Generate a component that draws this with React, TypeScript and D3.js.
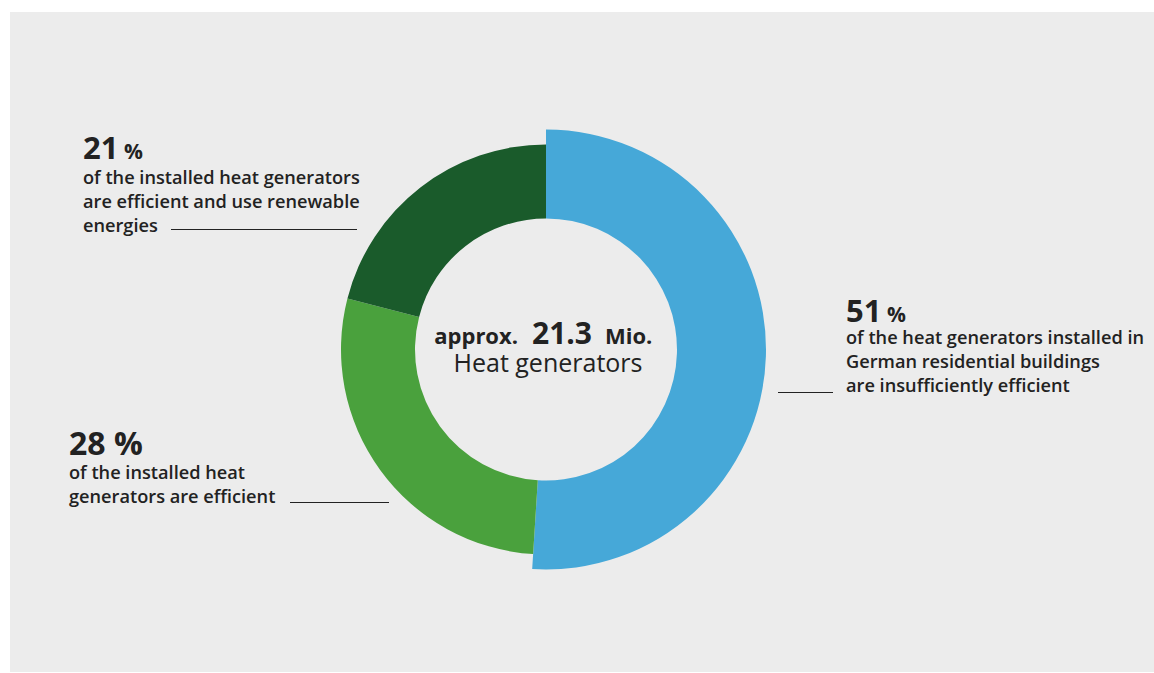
import React from "react";
import * as d3 from "d3";

const categories = ["insufficiently efficient", "efficient", "efficient, renewable"];
const values = [51, 28, 21];
const percentLabels = ["51", "28", "21"];
const labelLines = [
  ["of the heat generators installed in", "German residential buildings", "are insufficiently efficient"],
  ["of the installed heat", "generators are efficient"],
  ["of the installed heat generators", "are efficient and use renewable", "energies"],
];
const centerTop = ["approx.", "21.3", "Mio."];
const centerBottom = "Heat generators";

const COLORS = ["#46a8d8", "#4aa13d", "#1a5b2b"];
const OUTER = [220, 205, 205];
const INNER = 131;
const CX = 546;
const CY = 349.5;
const FONT = "'Open Sans', 'Noto Sans', sans-serif";
const TEXT = "#222";

const LABEL_LAYOUT = [
  { x: 846, y: 321.5, big: 31, pct: 21, line: [778, 833, 392.5], lineStart: 344.3 },
  { x: 69, y: 455, big: 32, pct: 32, line: [290, 389, 502.5], lineStart: 479.3 },
  { x: 83, y: 159.3, big: 31, pct: 21, line: [171, 357, 229.5], lineStart: 184 },
];

export default function App() {
  const pie = d3.pie<number>().sort(null).value((d) => d);
  const arcs = pie(values);
  return (
    <svg
      width={1154}
      height={673}
      style={{ position: "absolute", left: 0, top: 0 }}
      fontFamily={FONT}
    >
      <rect x={10} y={12} width={1144} height={660} fill="#ececec" />
      <g transform={`translate(${CX},${CY})`}>
        {arcs.map((a, i) => {
          const path = d3.arc<d3.PieArcDatum<number>>().innerRadius(INNER).outerRadius(OUTER[i])(a) || "";
          return <path key={categories[i]} d={path} fill={COLORS[i]} />;
        })}
        <text x={-28} y={-5.2} textAnchor="end" fill={TEXT} fontWeight={700} fontSize={22}>
          {centerTop[0]}
        </text>
        <text x={16} y={-5.2} textAnchor="middle" fill={TEXT} fontWeight={700} fontSize={30}>
          {centerTop[1]}
        </text>
        <text x={59} y={-5.2} textAnchor="start" fill={TEXT} fontWeight={700} fontSize={22}>
          {centerTop[2]}
        </text>
        <text x={2} y={22.2} textAnchor="middle" fill={TEXT} fontSize={25} fontWeight={400}>
          {centerBottom}
        </text>
      </g>
      {LABEL_LAYOUT.map((L, i) => (
        <g key={i}>
          <text x={L.x} y={L.y} fill={TEXT} fontWeight={700}>
            <tspan fontSize={L.big}>{percentLabels[i]}</tspan>
            <tspan fontSize={L.pct}> %</tspan>
          </text>
          <text x={L.x} y={L.lineStart} fill={TEXT} fontSize={18.2} fontWeight={600}>
            {labelLines[i].map((t, j) => (
              <tspan key={j} x={L.x} dy={j === 0 ? 0 : 24}>
                {t}
              </tspan>
            ))}
          </text>
          <line x1={L.line[0]} x2={L.line[1]} y1={L.line[2]} y2={L.line[2]} stroke={TEXT} strokeWidth={1.2} />
        </g>
      ))}
    </svg>
  );
}
